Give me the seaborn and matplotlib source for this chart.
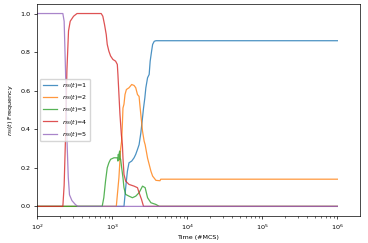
import matplotlib
matplotlib.use("Agg")
import matplotlib.pyplot as plt
import seaborn as sns
import pandas as pd

# values (time in MCS, frequency)
t1 = [1, 1440, 1517, 1600, 1680, 1826, 1963, 2066, 2178, 2289, 2413, 2543, 2623,
      2731, 2816, 2968, 3117, 3215, 3359, 3467, 3642, 3837, 1e6]
n1 = [0, 0, 0.097, 0.183, 0.226, 0.235, 0.252, 0.27, 0.295, 0.32, 0.38, 0.46, 0.51,
      0.563, 0.615, 0.667, 0.684, 0.753, 0.805, 0.84, 0.856, 0.859, 0.859]

t2 = [1, 1138, 1234, 1300, 1342, 1371, 1396, 1440, 1486, 1551, 1680, 1826, 1963,
      2066, 2178, 2289, 2339, 2413, 2543, 2673, 2756, 2968, 3117, 3286, 3467, 3837,
      4345, 4440, 1e6]
n2 = [0, 0, 0.15, 0.30, 0.34, 0.425, 0.51, 0.53, 0.58, 0.606, 0.615, 0.632, 0.627,
      0.615, 0.58, 0.57, 0.53, 0.477, 0.39, 0.338, 0.32, 0.25, 0.218, 0.183, 0.157,
      0.135, 0.133, 0.141, 0.141]

t3 = [1, 716, 738, 776, 818, 862, 906, 955, 1058, 1174, 1195, 1211, 1230, 1250,
      1261, 1280, 1300, 1342, 1396, 1440, 1517, 1680, 1866, 2066, 2289, 2543, 2756,
      2968, 3286, 3837, 4248, 1e6]
n3 = [0, 0, 0, 0.045, 0.131, 0.2, 0.226, 0.244, 0.252, 0.252, 0.235, 0.27, 0.24,
      0.28, 0.287, 0.25, 0.244, 0.2, 0.149, 0.097, 0.062, 0.053, 0.045, 0.053, 0.071,
      0.105, 0.097, 0.045, 0.019, 0.01, 0, 0]

t4 = [1, 221, 230, 240, 250, 263, 277, 307, 341, 716, 753, 793, 836, 862, 906, 955,
      1025, 1114, 1174, 1196, 1234, 1273, 1328, 1371, 1396, 1440, 1517, 1680, 1963,
      2178, 2289, 2466, 2623, 1e6]
n4 = [0, 0, 0.11, 0.36, 0.70, 0.91, 0.96, 0.986, 1.0, 1.0, 0.986, 0.943, 0.891, 0.84,
      0.805, 0.78, 0.762, 0.753, 0.736, 0.684, 0.58, 0.477, 0.373, 0.321, 0.252,
      0.166, 0.131, 0.114, 0.105, 0.097, 0.071, 0.036, 0, 0]

t5 = [1, 221, 230, 240, 250, 261, 271, 292, 324, 348, 1e6]
n5 = [1, 1, 0.96, 0.70, 0.36, 0.15, 0.06, 0.03, 0.01, 0, 0]

series = [(t1, n1), (t2, n2), (t3, n3), (t4, n4), (t5, n5)]
colors = sns.color_palette("tab10", 5)

plt.rcParams["font.size"] = 4.6
plt.rcParams["axes.linewidth"] = 0.5
plt.rcParams["xtick.major.width"] = 0.5
plt.rcParams["ytick.major.width"] = 0.5
plt.rcParams["xtick.minor.width"] = 0.4
plt.rcParams["xtick.major.size"] = 2
plt.rcParams["ytick.major.size"] = 2
plt.rcParams["xtick.minor.size"] = 1.2
plt.rcParams["xtick.major.pad"] = 2.5
plt.rcParams["ytick.major.pad"] = 2.5

fig, ax = plt.subplots(figsize=(3.68, 2.43), dpi=100)
fig.subplots_adjust(left=0.1005, right=0.978, bottom=0.111, top=0.984)

for k, (t, n) in enumerate(series):
    df = pd.DataFrame({"t": t, "n": n})
    sns.lineplot(data=df, x="t", y="n", ax=ax, color=colors[k], lw=0.9,
                 alpha=0.8, estimator=None, sort=True,
                 label=r"$n_S(t)$=" + str(k + 1))

ax.set_xscale("log")
ax.set_xlim(100, 10 ** 6.3)
ax.set_ylim(-0.05, 1.05)
ax.set_yticks([0.0, 0.2, 0.4, 0.6, 0.8, 1.0])
ax.set_xlabel("Time (#MCS)", labelpad=2.5)
ax.set_ylabel(r"$n_S(t)$ Frequency", labelpad=4)
ax.legend(loc="center left", fontsize=4.6, handlelength=2.2)

fig.savefig("out.png", dpi=100)
